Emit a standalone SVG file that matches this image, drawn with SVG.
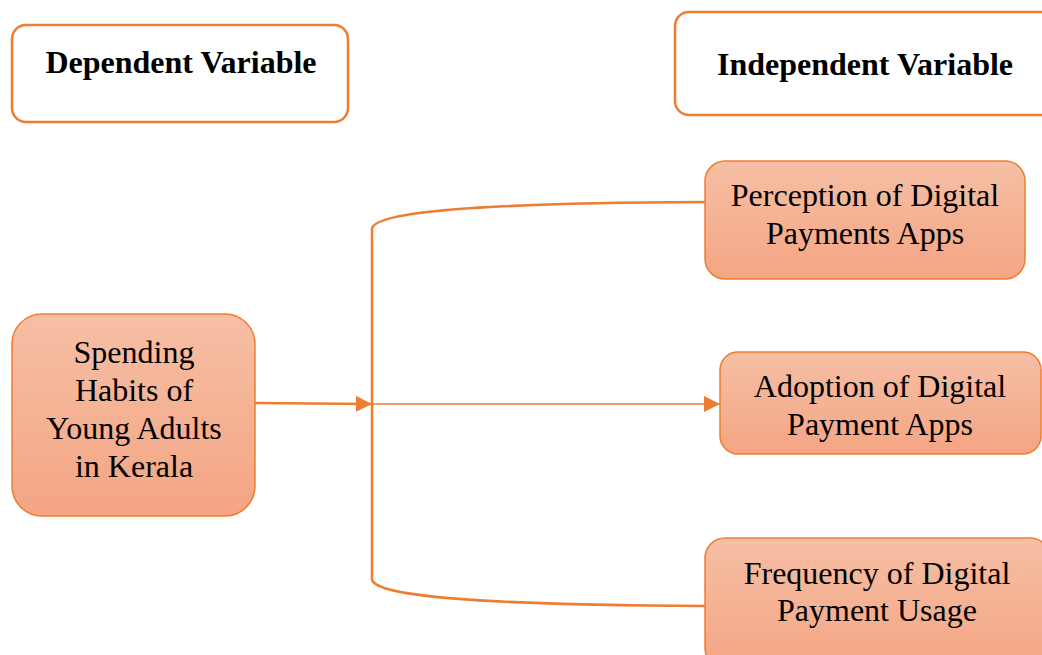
<svg xmlns="http://www.w3.org/2000/svg" width="1042" height="655" viewBox="0 0 1042 655">
<style>
.hdr{fill:#fff;stroke:#ED7D31;stroke-width:2.5}
.box{fill:url(#g);stroke:#ED7D31;stroke-width:1.5}
.t{font-family:"Liberation Serif","Times New Roman",serif;font-size:32px;fill:#000;text-anchor:middle}
.b{font-weight:bold}
.c{fill:none;stroke:#ED7D31}
</style>
<defs>
<linearGradient id="g" x1="0" y1="0" x2="0" y2="1">
<stop offset="0" stop-color="#F6BFA5"/>
<stop offset="1" stop-color="#F4A583"/>
</linearGradient>
<marker id="ah" markerUnits="userSpaceOnUse" markerWidth="16" markerHeight="16" viewBox="0 0 16 16" refX="16" refY="8" orient="auto">
<path d="M0,0 L16,8 L0,16 Z" fill="#ED7D31"/>
</marker>
</defs>
<g id="dependent-header">
<rect class="hdr" x="12" y="25" width="336" height="97" rx="14"/>
<text class="t b" x="181" y="73">Dependent Variable</text>
</g>
<g id="independent-header">
<rect class="hdr" x="675" y="12" width="380" height="103" rx="14"/>
<text class="t b" x="865" y="75">Independent Variable</text>
</g>
<g id="spending">
<rect class="box" x="12" y="314" width="243" height="202" rx="30"/>
<text class="t" x="134" y="363">Spending</text>
<text class="t" x="134" y="401">Habits of</text>
<text class="t" x="134" y="439">Young Adults</text>
<text class="t" x="134" y="477">in Kerala</text>
</g>
<g id="perception">
<rect class="box" x="705" y="161" width="320" height="118" rx="20"/>
<text class="t" x="865" y="206">Perception of Digital</text>
<text class="t" x="865" y="244">Payments Apps</text>
</g>
<g id="adoption">
<rect class="box" x="720" y="352" width="321" height="102" rx="18"/>
<text class="t" x="880" y="397">Adoption of Digital</text>
<text class="t" x="880" y="435">Payment Apps</text>
</g>
<g id="frequency">
<rect class="box" x="705" y="538" width="345" height="130" rx="20"/>
<text class="t" x="877" y="584">Frequency of Digital</text>
<text class="t" x="877" y="621">Payment Usage</text>
</g>
<g id="connectors">
<path class="c" stroke-width="2.5" d="M255,403 L372,404" marker-end="url(#ah)"/>
<path class="c" stroke-width="2.5" d="M372,580 L372,228"/>
<path class="c" stroke-width="2.5" d="M372,228 C378,212 470,203 705,202"/>
<path class="c" stroke-width="2.5" d="M372,580 C378,596 470,605 705,606"/>
<path class="c" stroke-width="1.3" d="M372,404 L720,404" marker-end="url(#ah)"/>
</g>
</svg>
